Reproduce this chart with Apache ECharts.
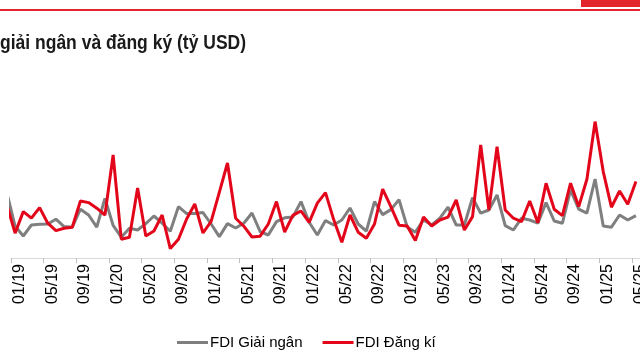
<!DOCTYPE html>
<html>
<head>
<meta charset="utf-8">
<script src="https://cdn.jsdelivr.net/npm/echarts@6/dist/echarts.min.js"></script>
<style>html,body{margin:0;padding:0;background:#fff;}#c{width:640px;height:360px;}</style>
</head>
<body>
<div id="c"></div>
<script>
// Months from 12/18 (partly cut off at the left edge) to 05/25
const categories = [];
(function(){
  categories.push('12/18');
  for (let y = 19; y <= 25; y++) {
    for (let m = 1; m <= 12; m++) {
      if (y === 25 && m > 5) break;
      categories.push((m < 10 ? '0' + m : '' + m) + '/' + y);
    }
  }
})();

const giaiNgan = [3.25,
  1.6,1.1,1.65,1.69,1.7,1.94,1.57,1.54,2.44,2.15,1.54,2.98,
  1.63,1.04,1.49,1.4,1.72,2.1,1.74,1.34,2.57,2.22,2.22,2.27,
  1.7,1.07,1.72,1.5,1.74,2.25,1.32,1.15,1.82,2.01,2.05,2.82,
  1.79,1.15,1.87,1.65,1.9,2.5,1.7,1.34,2.82,2.17,2.42,2.92,
  1.55,1.29,1.9,1.65,1.99,2.54,1.65,1.65,3.02,2.24,2.4,3.15,
  1.62,1.4,1.99,1.9,1.74,2.77,1.85,1.74,3.4,2.44,2.24,3.95,
  1.6,1.54,2.15,1.9,2.12];

const dangKi = [2.65,
  1.24,2.32,1.99,2.52,1.74,1.37,1.49,1.54,2.85,2.77,2.49,2.15,
  5.15,0.94,1.04,3.5,1.1,1.35,2.15,0.47,0.94,1.95,2.7,1.25,
  1.83,3.28,4.75,1.99,1.59,1.05,1.09,1.7,2.82,1.3,2.13,2.35,
  1.78,2.74,3.27,1.92,0.79,2.15,1.29,0.99,1.7,3.44,2.57,1.64,
  1.6,0.87,2.05,1.6,1.9,2.04,2.9,1.4,2.07,5.65,2.4,5.57,
  2.4,1.99,1.82,2.85,1.77,3.74,2.44,2.12,3.74,2.57,3.94,6.82,
  4.32,2.54,3.35,2.69,3.82];

const seriesNames = ['FDI Giải ngân', 'FDI Đăng kí'];
const titleText = 'giải ngân và đăng ký (tỷ USD)';

const chart = echarts.init(document.getElementById('c'), null, {renderer: 'canvas'});
const showIdx = (idx) => (idx - 1) % 4 === 0;
const font = "'Liberation Sans', Arial, sans-serif";

chart.setOption({
  animation: false,
  backgroundColor: '#fff',
  graphic: [
    {type: 'rect', shape: {x: 581, y: 0, width: 59, height: 7}, style: {fill: '#e2262b'}},
    {type: 'rect', shape: {x: 0, y: 9, width: 640, height: 2}, style: {fill: '#e2262b'}},
    {type: 'text', x: 0, y: 33, scaleX: 0.875,
     style: {text: titleText, fontFamily: font, fontWeight: 'bold', fontSize: 20, fill: '#1a1a1a', verticalAlign: 'top', align: 'left'}}
  ],
  legend: {
    left: 172, top: 330,
    icon: 'rect', itemWidth: 31, itemHeight: 3, itemGap: 20,
    textStyle: {fontFamily: font, fontSize: 15, color: '#000', padding: [0,0,0,-3]},
    data: seriesNames
  },
  grid: {left: 11, right: 0, top: 98, bottom: 102, containLabel: false, outerBoundsMode: 'none'},
  xAxis: {
    type: 'category',
    data: categories,
    min: 1,
    boundaryGap: true,
    axisLine: {lineStyle: {color: '#d9d9d9', width: 1}},
    axisTick: {show: true, interval: showIdx, length: 5, lineStyle: {color: '#bfbfbf'}},
    axisLabel: {interval: showIdx, rotate: 90, fontFamily: font, fontSize: 16, color: '#000', margin: 6,
                verticalAlign: 'top', lineHeight: 9}
  },
  yAxis: {
    type: 'value', min: 0, max: 8,
    show: false,
    splitLine: {show: false}
  },
  series: [
    {name: seriesNames[0], type: 'line', data: giaiNgan, showSymbol: false, symbol: 'none',
     lineStyle: {color: '#7f7f7f', width: 3}, itemStyle: {color: '#7f7f7f'}, clip: true},
    {name: seriesNames[1], type: 'line', data: dangKi, showSymbol: false, symbol: 'none',
     lineStyle: {color: '#e3061b', width: 3}, itemStyle: {color: '#e3061b'}, clip: true}
  ]
});
</script>
</body>
</html>
